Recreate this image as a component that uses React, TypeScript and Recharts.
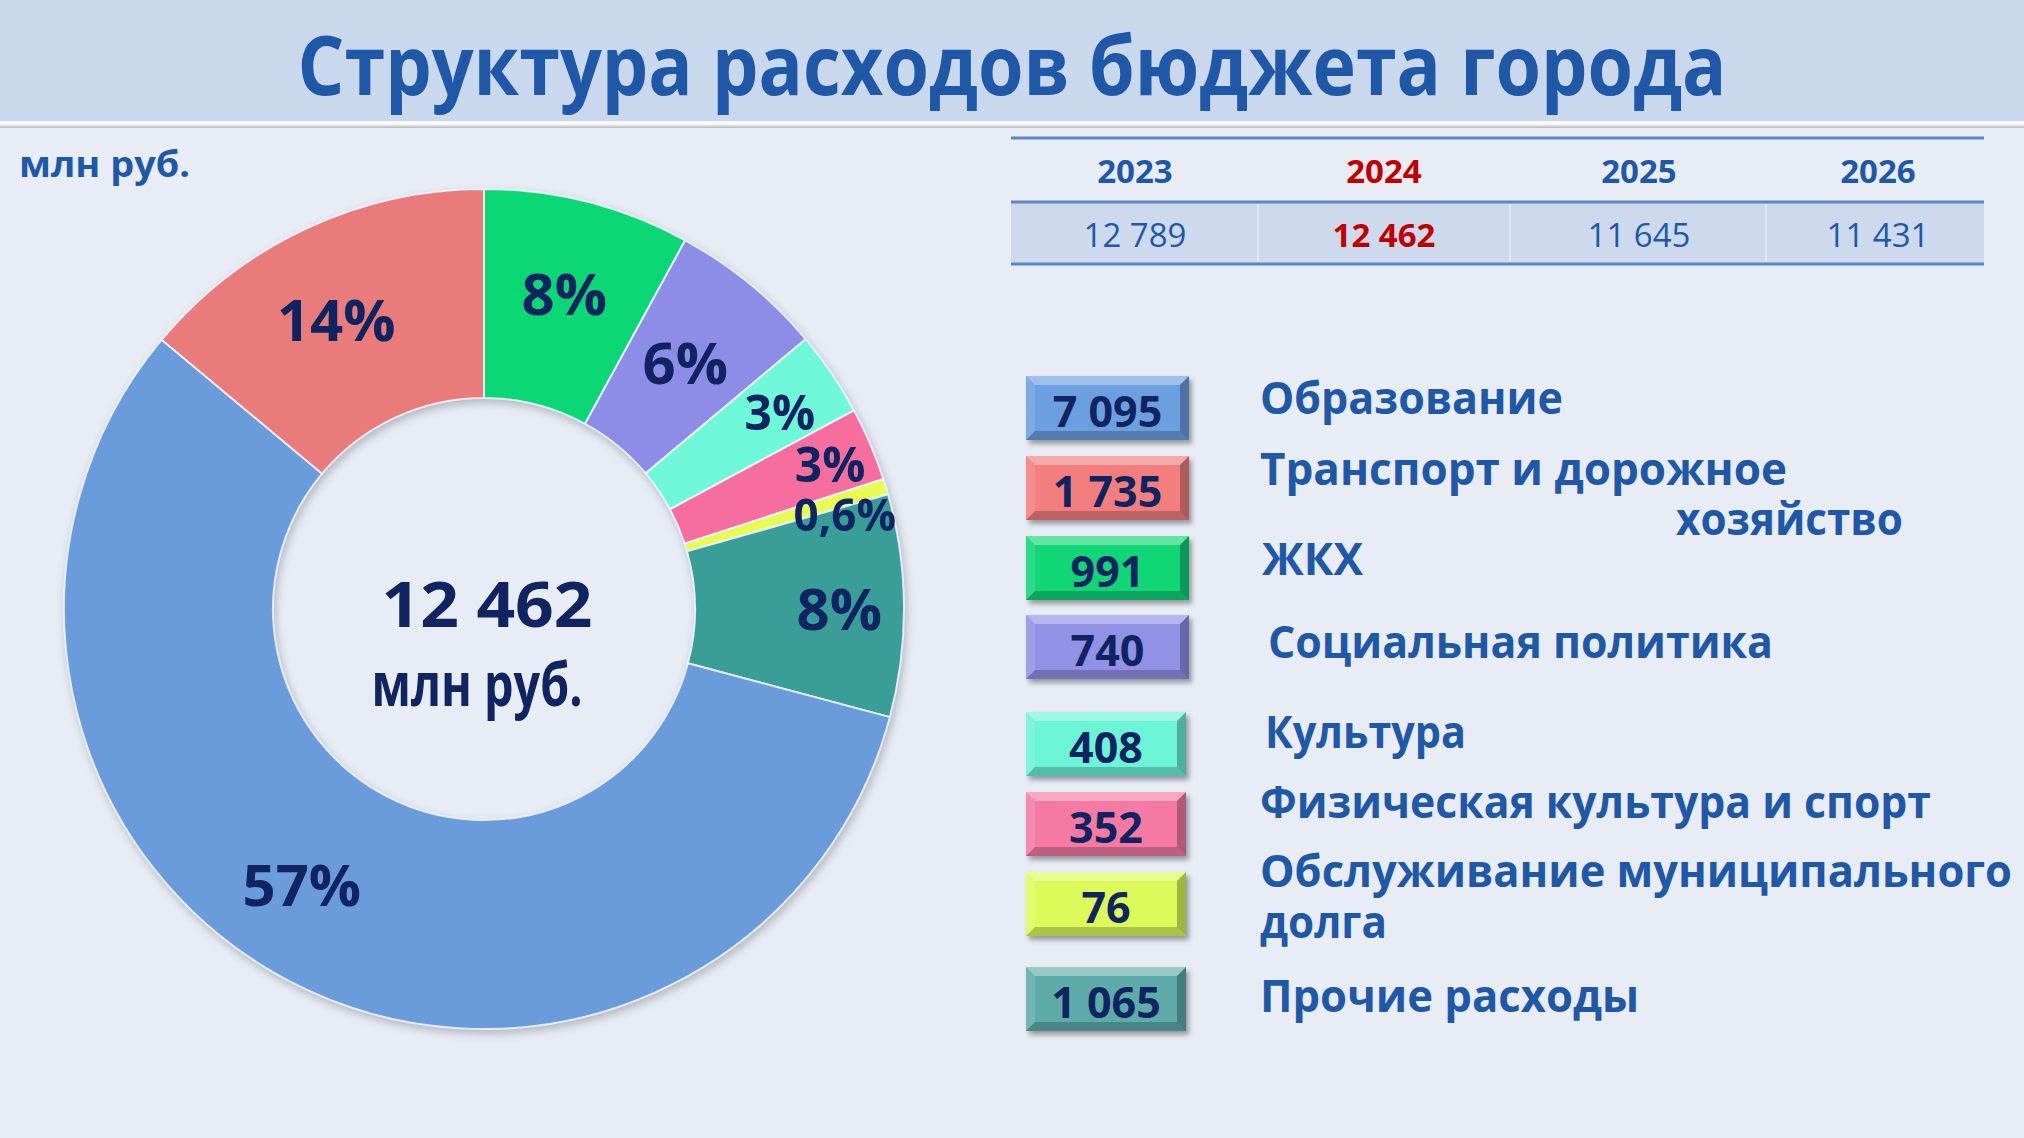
import React from 'react';
import { PieChart, Pie, Cell } from 'recharts';

// ---------- data ----------
const title = 'Структура расходов бюджета города';
const unitLabel = 'млн руб.';
const categories = [
  'Образование',
  'Транспорт и дорожное\nхозяйство',
  'ЖКХ',
  'Социальная политика',
  'Культура',
  'Физическая культура и спорт',
  'Обслуживание муниципального\nдолга',
  'Прочие расходы',
];
const amounts = [7095, 1735, 991, 740, 408, 352, 76, 1065];
const amountLabels = ['7 095', '1 735', '991', '740', '408', '352', '76', '1 065'];
const shareLabels = ['57%', '14%', '8%', '6%', '3%', '3%', '0,6%', '8%'];
const years = ['2023', '2024', '2025', '2026'];
const yearTotals = ['12 789', '12 462', '11 645', '11 431'];
const currentYear = '2024';
const totalLabel = '12 462';
// clockwise order of slices starting at 12 o'clock
const pieOrder = [2, 3, 4, 5, 6, 7, 0, 1];

// ---------- styles ----------
const sliceColors = ['#6a9cdc', '#ea7b7b', '#0bd874', '#8d8de8', '#6ff8d8', '#f56e9e', '#e8fb52', '#3a9e98'];
const boxColors = ['#6c9fe0', '#f27e7e', '#10d676', '#9191e6', '#6cf4d6', '#f47aa4', '#dcfb5a', '#5eaca9'];
const NAVY = '#0f2461';
const BLUE = '#1f58a7';
const RED = '#c00000';
const FONT = '"Open Sans", "Noto Sans", sans-serif';

// label placement tweaks per category: radial fraction in ring, clockwise angle nudge, font size
const labelStyle = [
  { r: 0.574, da: 6, fs: 58 },
  { r: 0.545, da: -2, fs: 58 },
  { r: 0.545, da: 0, fs: 58 },
  { r: 0.51, da: 0, fs: 58 },
  { r: 0.69, da: 0.5, fs: 48 },
  { r: 0.785, da: 0.5, fs: 48 },
  { r: 0.775, da: 2.3, fs: 44 },
  { r: 0.69, da: 0.5, fs: 58 },
];

// legend layout
const boxTop = [376, 456, 536, 615, 712, 792, 872, 967];
const legendLayout = [
  [{ x: 1260, y: 414, w: 303 }],
  [{ x: 1260, y: 485, w: 527 }, { x: 1676, y: 535, w: 227 }],
  [{ x: 1262, y: 575, w: 101 }],
  [{ x: 1268, y: 658, w: 505 }],
  [{ x: 1265, y: 748, w: 201 }],
  [{ x: 1260, y: 818, w: 671 }],
  [{ x: 1260, y: 887, w: 752 }, { x: 1260, y: 938, w: 127 }],
  [{ x: 1260, y: 1012, w: 379 }],
];
const colCenters = [1135, 1384, 1639, 1878];

const CX = 484;
const CY = 609;
const R_IN = 211;
const R_OUT = 420;

const pieData = pieOrder.map((i) => ({
  name: categories[i].replace('\n', ' '),
  value: amounts[i],
  idx: i,
}));

const RAD = Math.PI / 180;

const renderLabel = (props: any) => {
  const { cx, cy, midAngle, innerRadius, outerRadius, index } = props;
  const cat = pieData[index].idx;
  const st = labelStyle[cat];
  const r = innerRadius + (outerRadius - innerRadius) * st.r;
  const ang = midAngle - st.da;
  const x = cx + r * Math.cos(-ang * RAD);
  const y = cy + r * Math.sin(-ang * RAD);
  return (
    <text
      key={'lbl' + index}
      x={x}
      y={y + st.fs * 0.36}
      textAnchor="middle"
      fontFamily={FONT}
      fontWeight={700}
      fontSize={st.fs}
      fill={NAVY}
    >
      {shareLabels[cat]}
    </text>
  );
};

function Box({ i }: { i: number }) {
  const x = 1026;
  const y = boxTop[i];
  const w = i >= 4 ? 160 : 163;
  const h = 64;
  const b = 9;
  return (
    <g>
      <rect x={x + 3} y={y + 4} width={w} height={h} fill="rgba(0,0,0,0.35)" filter="url(#blur3)" />
      <rect x={x} y={y} width={w} height={h} fill={boxColors[i]} />
      <polygon points={`${x},${y} ${x + w},${y} ${x + w - b},${y + b} ${x + b},${y + b}`} fill="rgba(255,255,255,0.35)" />
      <polygon points={`${x},${y} ${x + b},${y + b} ${x + b},${y + h - b} ${x},${y + h}`} fill="rgba(255,255,255,0.12)" />
      <polygon points={`${x + w},${y} ${x + w},${y + h} ${x + w - b},${y + h - b} ${x + w - b},${y + b}`} fill="rgba(0,0,0,0.28)" />
      <polygon points={`${x},${y + h} ${x + w},${y + h} ${x + w - b},${y + h - b} ${x + b},${y + h - b}`} fill="rgba(0,0,0,0.22)" />
      <text
        x={x + w / 2}
        y={y + 51}
        textAnchor="middle"
        fontFamily={FONT}
        fontWeight={700}
        fontSize={43}
        fill={NAVY}
      >
        {amountLabels[i]}
      </text>
    </g>
  );
}

export default function App() {
  return (
    <div
      style={{
        position: 'absolute',
        left: 0,
        top: 0,
        width: 2024,
        height: 1138,
        background: '#e8ecf5',
        overflow: 'hidden',
        fontFamily: FONT,
      }}
    >
      <div style={{ position: 'absolute', left: 0, top: 0, width: 2024, height: 121, background: '#cad8ee' }} />
      <div
        style={{
          position: 'absolute',
          left: 0,
          top: 121,
          width: 2024,
          height: 7,
          background: 'linear-gradient(#f4f4f4 0%, #ffffff 40%, #b5b5b5 100%)',
        }}
      />
      {/* table value row */}
      <div style={{ position: 'absolute', left: 1011, top: 202, width: 973, height: 62, background: '#cddaee' }} />

      <div style={{ position: 'absolute', left: 0, top: 0, filter: 'drop-shadow(2px 4px 4px rgba(0,0,0,0.22))' }}>
        <PieChart width={2024} height={1138} margin={{ top: 0, right: 0, bottom: 0, left: 0 }}>
          <Pie
            data={pieData}
            dataKey="value"
            nameKey="name"
            cx={CX}
            cy={CY}
            innerRadius={R_IN}
            outerRadius={R_OUT}
            startAngle={90}
            endAngle={-270}
            stroke="rgba(235,242,255,0.9)"
            strokeWidth={2}
            label={renderLabel}
            labelLine={false}
            isAnimationActive={false}
          >
            {pieData.map((d) => (
              <Cell key={d.name} fill={sliceColors[d.idx]} />
            ))}
          </Pie>
        </PieChart>
      </div>

      <svg
        width={2024}
        height={1138}
        style={{ position: 'absolute', left: 0, top: 0, pointerEvents: 'none' }}
      >
        <defs>
          <filter id="blur3" x="-20%" y="-20%" width="140%" height="140%">
            <feGaussianBlur stdDeviation="2.5" />
          </filter>
        </defs>
        <text
          x={1012}
          y={95}
          textAnchor="middle"
          fontFamily={FONT}
          fontWeight={700}
          fontSize={82}
          fill={BLUE}
          textLength={1429}
          lengthAdjust="spacingAndGlyphs"
        >
          {title}
        </text>
        <text x={19} y={177} fontFamily={FONT} fontWeight={700} fontSize={36} fill={BLUE} textLength={171} lengthAdjust="spacingAndGlyphs">
          {unitLabel}
        </text>

        {/* table */}
        <line x1={1011} x2={1984} y1={138} y2={138} stroke="#5b87c2" strokeWidth={3} />
        <line x1={1011} x2={1984} y1={202} y2={202} stroke="#5b87c2" strokeWidth={3} />
        <line x1={1011} x2={1984} y1={264} y2={264} stroke="#5b87c2" strokeWidth={3} />
        {[1258, 1510, 1766].map((x) => (
          <line key={x} x1={x} x2={x} y1={204} y2={262} stroke="rgba(255,255,255,0.45)" strokeWidth={1.5} />
        ))}
        {years.map((yr, k) => (
          <text
            key={yr}
            x={colCenters[k]}
            y={183}
            textAnchor="middle"
            fontFamily={FONT}
            fontWeight={700}
            fontSize={33}
            fill={yr === currentYear ? RED : BLUE}
          >
            {yr}
          </text>
        ))}
        {yearTotals.map((v, k) => (
          <text
            key={k}
            x={colCenters[k]}
            y={247}
            textAnchor="middle"
            fontFamily={FONT}
            fontWeight={years[k] === currentYear ? 700 : 400}
            fontSize={33}
            fill={years[k] === currentYear ? RED : BLUE}
          >
            {v}
          </text>
        ))}

        {/* centre */}
        <text x={487} y={627} textAnchor="middle" fontFamily={FONT} fontWeight={700} fontSize={63} fill={NAVY} textLength={211} lengthAdjust="spacingAndGlyphs">
          {totalLabel}
        </text>
        <text x={477} y={706} textAnchor="middle" fontFamily={FONT} fontWeight={700} fontSize={60} fill={NAVY} textLength={211} lengthAdjust="spacingAndGlyphs">
          {unitLabel}
        </text>

        {/* legend */}
        {categories.map((c, i) => (
          <g key={c}>
            <Box i={i} />
            {c.split('\n').map((line, j) => {
              const L = legendLayout[i][j];
              return (
                <text
                  key={j}
                  x={L.x}
                  y={L.y}
                  fontFamily={FONT}
                  fontWeight={700}
                  fontSize={44}
                  fill={BLUE}
                  textLength={L.w}
                  lengthAdjust="spacingAndGlyphs"
                >
                  {line}
                </text>
              );
            })}
          </g>
        ))}
      </svg>
    </div>
  );
}
